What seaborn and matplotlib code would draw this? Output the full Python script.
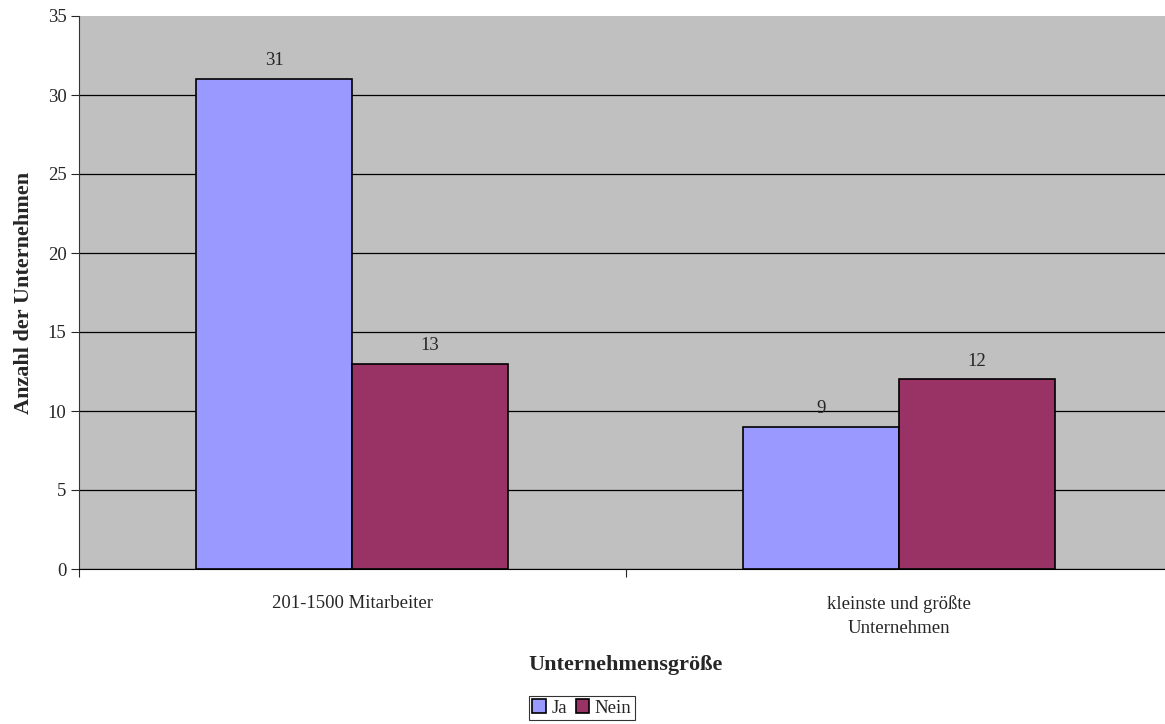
import matplotlib
matplotlib.use("Agg")
import matplotlib.pyplot as plt
import seaborn as sns
import pandas as pd

# data
categories = ["201-1500 Mitarbeiter", "kleinste und größte\nUnternehmen"]
ja_values = [31, 9]
nein_values = [13, 12]
series = ["Ja", "Nein"]
colors = ["#9999FF", "#993366"]

df = pd.DataFrame({
    "Kategorie": categories * 2,
    "Antwort": ["Ja"] * 2 + ["Nein"] * 2,
    "Anzahl": ja_values + nein_values,
})

sns.set_style("white")
plt.rcParams["font.family"] = ["Liberation Serif", "DejaVu Serif"]

W, H = 1165, 724
fig = plt.figure(figsize=(W / 100, H / 100), dpi=100)
# plot area in pixels: left 79, right 1172 (past image edge), top 16, bottom 569
ax = fig.add_axes([79 / W, 1 - 569 / H, (1172 - 79) / W, (569 - 16) / H])
ax.set_facecolor("#C0C0C0")

sns.barplot(data=df, x="Kategorie", y="Anzahl", hue="Antwort", hue_order=series,
            palette=colors, width=0.57, edgecolor="black", linewidth=1.2,
            saturation=1, ax=ax, legend=True)

ax.set_xlim(-0.5, 1.5)
ax.set_ylim(0, 35)
ax.set_yticks(range(0, 36, 5))
ax.yaxis.grid(True, color="black", linewidth=0.9)
ax.set_axisbelow(True)
# no black line along the top of the plot area
ax.get_ygridlines()[-1].set_visible(False)

for s in ["top", "right"]:
    ax.spines[s].set_visible(False)
ax.spines["left"].set_color("#333333")
ax.spines["bottom"].set_color("black")

# x ticks at category boundaries, labels at centres
ax.set_xticks([-0.5, 0.5, 1.5])
ax.set_xticklabels([])
ax.set_xticks([0, 1], minor=True)
ax.set_xticklabels(categories, minor=True, fontsize=13.5, linespacing=1.5)
ax.tick_params(axis="x", which="minor", length=0, pad=19)
ax.tick_params(axis="x", which="major", length=6, width=0.8, direction="out", bottom=True)
ax.tick_params(axis="y", length=6, width=0.8, direction="out", left=True, labelsize=13.5, pad=3)

for cont in ax.containers:
    ax.bar_label(cont, fontsize=13.5, padding=7)

ax.set_xlabel("Unternehmensgröße", fontsize=16, fontweight="bold", labelpad=13)
ax.set_ylabel("Anzahl der Unternehmen", fontsize=16, fontweight="bold", labelpad=10)

leg = ax.legend(loc="center", bbox_to_anchor=(582 / W, 1 - 708 / H),
                bbox_transform=fig.transFigure, ncol=2, frameon=True,
                fancybox=False, edgecolor="black", fontsize=13.5,
                handlelength=0.7, handleheight=0.7, handletextpad=0.3,
                columnspacing=0.5, borderpad=0.2, borderaxespad=0)
leg.get_frame().set_linewidth(0.8)
for h in leg.legend_handles:
    h.set_edgecolor("black")

fig.savefig("out.png", dpi=100)
